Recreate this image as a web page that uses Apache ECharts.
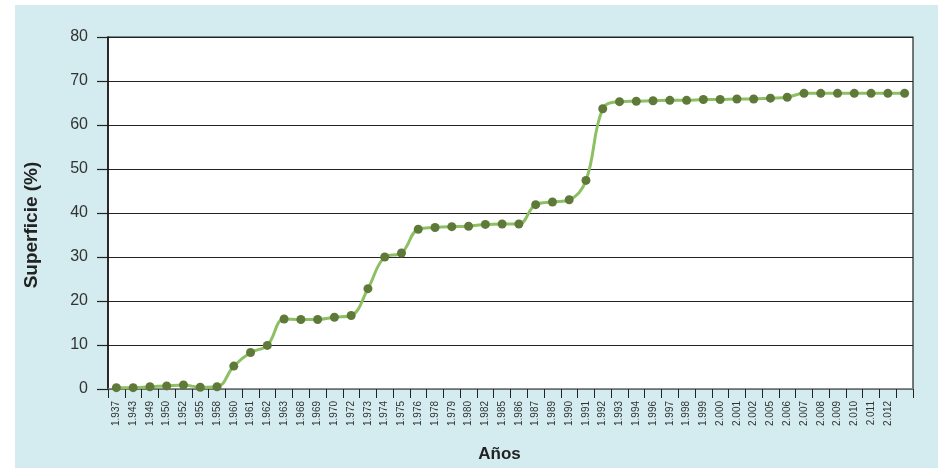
<!DOCTYPE html>
<html>
<head>
<meta charset="utf-8">
<script src="https://cdn.jsdelivr.net/npm/echarts@6/dist/echarts.min.js"></script>
<style>
html,body{margin:0;padding:0;background:#ffffff;}
#c{width:938px;height:468px;}
</style>
</head>
<body>
<div id="c"></div>
<script>
var years = ['1.937','1.943','1.949','1.950','1.952','1.955','1.958','1.960','1.961','1.962','1.963','1.968','1.969','1.970','1.972','1.973','1.974','1.975','1.976','1.978','1.979','1.980','1.982','1.985','1.986','1.987','1.989','1.990','1.991','1.992','1.993','1.994','1.996','1.997','1.998','1.999','2.000','2.001','2.002','2.005','2.006','2.007','2.008','2.009','2.010','2.011','2.012',''];
var superficie = [0.3,0.3,0.5,0.7,0.9,0.4,0.5,5.2,8.3,9.9,15.9,15.8,15.8,16.3,16.7,22.8,30.0,30.9,36.3,36.7,36.9,37.0,37.4,37.5,37.5,41.9,42.5,43.0,47.4,63.7,65.3,65.4,65.5,65.6,65.6,65.8,65.8,65.9,65.9,66.1,66.3,67.2,67.2,67.2,67.2,67.2,67.2,67.2];
var yTicks = [0,10,20,30,40,50,60,70,80];

var chart = echarts.init(document.getElementById('c'), null, {renderer:'canvas'});
chart.setOption({
  animation:false,
  backgroundColor:'#ffffff',
  graphic:[{type:'rect',z:-10,shape:{x:15,y:5,width:923,height:463},style:{fill:'#d4ecef'}}],
  grid:{left:108,right:25,top:37,bottom:79,show:true,backgroundColor:'#ffffff',borderColor:'#222',borderWidth:1.2},
  xAxis:{
    type:'category',
    data:years,
    boundaryGap:true,
    name:'Años',
    nameLocation:'middle',
    nameGap:57,
    nameTextStyle:{fontFamily:'Liberation Sans, Arial, sans-serif',fontWeight:'bold',fontSize:17,color:'#222',padding:[0,22,0,0]},
    axisLine:{lineStyle:{color:'#8a8a8a',width:1.5}},
    axisTick:{show:true,alignWithLabel:false,interval:0,length:9,lineStyle:{color:'#222',width:1}},
    axisLabel:{interval:0,rotate:90,margin:12,fontSize:10,color:'#333',fontFamily:'Liberation Sans, Arial, sans-serif'}
  },
  yAxis:{
    type:'value',
    min:0,max:80,interval:10,
    name:'Superficie (%)',
    nameLocation:'middle',
    nameGap:67,
    nameRotate:90,
    nameTextStyle:{fontFamily:'Liberation Sans, Arial, sans-serif',fontWeight:'bold',fontSize:19,color:'#222',padding:[0,24,0,0]},
    axisLine:{show:true,lineStyle:{color:'#111',width:1.5}},
    axisTick:{show:true,length:11,lineStyle:{color:'#222',width:1.2}},
    axisLabel:{margin:20,fontSize:16,color:'#333',fontFamily:'Liberation Sans, Arial, sans-serif',
      formatter:function(v){return yTicks.indexOf(v)>=0?String(v):'';}},
    splitLine:{show:true,lineStyle:{color:'#222',width:1.2}}
  },
  series:[{
    type:'line',
    data:superficie,
    smooth:0.4,
    symbol:'circle',
    symbolSize:9,
    showSymbol:true,
    lineStyle:{color:'#8cc063',width:3},
    itemStyle:{color:'#5f7a38',borderWidth:0}
  }]
});
</script>
</body>
</html>
